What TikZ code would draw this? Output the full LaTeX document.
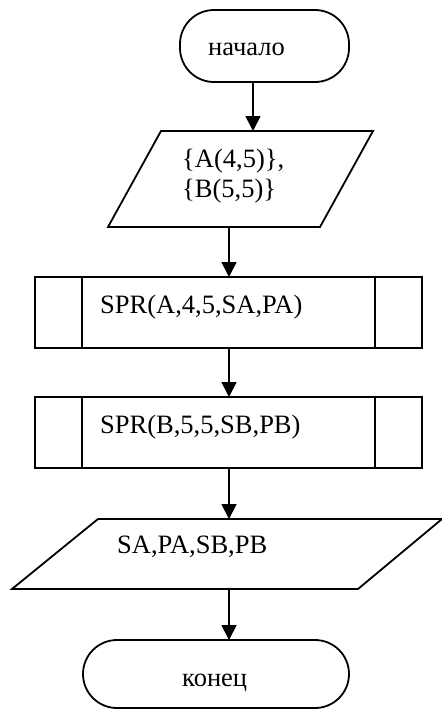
\documentclass[tikz,border=0pt]{standalone}
\usepackage{fontspec}
\setmainfont{Liberation Serif}
\usetikzlibrary{arrows.meta}
\begin{document}
\begin{tikzpicture}[x=1pt,y=-1pt,
  shp/.style={draw=none,inner sep=0pt,outer sep=0pt},
  outline/.style={line width=1.8pt,line join=miter},
  arr/.style={line width=1.8pt,-{Triangle[length=15pt,width=15pt]}},
  txt/.style={inner sep=0pt,anchor=base west,font=\fontsize{26.5}{30}\selectfont}]
\useasboundingbox (0,0) rectangle (442,710);
% columns of the connectors
\coordinate (colA) at (253,0);
\coordinate (colB) at (229,0);
% start terminal
\node[shp,minimum width=169pt,minimum height=72pt] (start) at (264.5,46) {};
\draw[outline,rounded corners=34pt] (start.north west) rectangle (start.south east);
\node[txt] (tstart) at (208,55) {начало};
% input parallelogram
\node[shp,minimum width=265pt,minimum height=96pt] (io1) at (240.5,179) {};
\draw[outline] ([xshift=53pt]io1.north west) -- (io1.north east) -- ([xshift=-53pt]io1.south east) -- (io1.south west) -- cycle;
\node[txt] (tio1) at (182,167) {\{A(4,5)\},};
\node[txt] (tio1b) at (182,197) {\{B(5,5)\}};
% subprogram 1
\node[shp,minimum width=387pt,minimum height=71pt] (sub1) at (228.5,312.5) {};
\draw[outline] (sub1.north west) rectangle (sub1.south east);
\draw[outline] ([xshift=47pt]sub1.north west) -- ([xshift=47pt]sub1.south west);
\draw[outline] ([xshift=-47pt]sub1.north east) -- ([xshift=-47pt]sub1.south east);
\node[txt] (tsub1) at (100,313) {SPR(A,4,5,SA,PA)};
% subprogram 2
\node[shp,minimum width=387pt,minimum height=71pt] (sub2) at (228.5,432.5) {};
\draw[outline] (sub2.north west) rectangle (sub2.south east);
\draw[outline] ([xshift=47pt]sub2.north west) -- ([xshift=47pt]sub2.south west);
\draw[outline] ([xshift=-47pt]sub2.north east) -- ([xshift=-47pt]sub2.south east);
\node[txt] (tsub2) at (100,433) {SPR(B,5,5,SB,PB)};
% output parallelogram
\node[shp,minimum width=430pt,minimum height=70pt] (io2) at (227,554) {};
\draw[outline] ([xshift=86pt]io2.north west) -- (io2.north east) -- ([xshift=-84pt]io2.south east) -- (io2.south west) -- cycle;
\node[txt] (tio2) at (117,553) {SA,PA,SB,PB};
% end terminal
\node[shp,minimum width=266pt,minimum height=68pt] (stop) at (216,674) {};
\draw[outline,rounded corners=34pt] (stop.north west) rectangle (stop.south east);
\node[txt] (tstop) at (182,686) {конец};
% connectors
\draw[arr] (start.south -| colA) -- (io1.north -| colA);
\draw[arr] (io1.south -| colB) -- (sub1.north -| colB);
\draw[arr] (sub1.south -| colB) -- (sub2.north -| colB);
\draw[arr] (sub2.south -| colB) -- (io2.north -| colB);
\draw[arr] (io2.south -| colB) -- (stop.north -| colB);
\end{tikzpicture}
\end{document}
